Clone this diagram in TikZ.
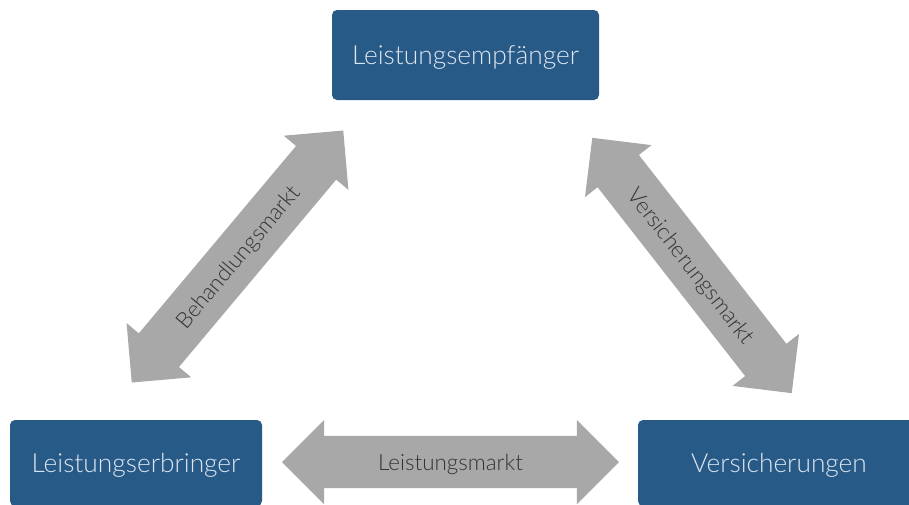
\documentclass[tikz,border=0pt]{standalone}
\usepackage{fontspec}
\setmainfont{Lato Light}
\usetikzlibrary{shapes.arrows, positioning}
\definecolor{boxblue}{HTML}{285A88}
\definecolor{boxtext}{HTML}{DDE6EF}
\definecolor{arrowgrey}{HTML}{A8A8A8}
\definecolor{arrowtext}{HTML}{333333}
\tikzstyle{actor} = [rectangle, rounded corners=5pt, minimum height=86pt, text centered, fill=boxblue, text=boxtext, font=\fontsize{26.3}{31}\selectfont, text height=19pt, text depth=0pt]
\tikzstyle{marketarrow} = [double arrow, double arrow head extend=16pt, inner sep=17.5pt, fill=arrowgrey, text=arrowtext, font=\fontsize{22.4}{26}\selectfont, text height=17pt, text depth=0pt]

\begin{document}
\begin{tikzpicture}[x=1pt, y=-1pt]
\useasboundingbox (0,0) rectangle (909,504);
\clip (0,0) rectangle (909,504);

\node (empf) [actor, minimum width=267pt, minimum height=90pt] at (465.5,55) {Leistungsempfänger};

\node (erbr) [actor, minimum width=252pt] at (136,463) {Leistungserbringer};

\node (vers) [actor, minimum width=282pt] at (779,463) {Versicherungen};

\node (lmarkt) [marketarrow, minimum height=337pt] at (450.5,462) {Leistungsmarkt};

\node (bmarkt) [marketarrow, minimum height=329pt, rotate=50] at (237.5,256.5) {Behandlungsmarkt};

\node (vmarkt) [marketarrow, minimum height=324pt, rotate=-52] at (692,265.5) {Versicherungsmarkt};
\end{tikzpicture}
\end{document}
